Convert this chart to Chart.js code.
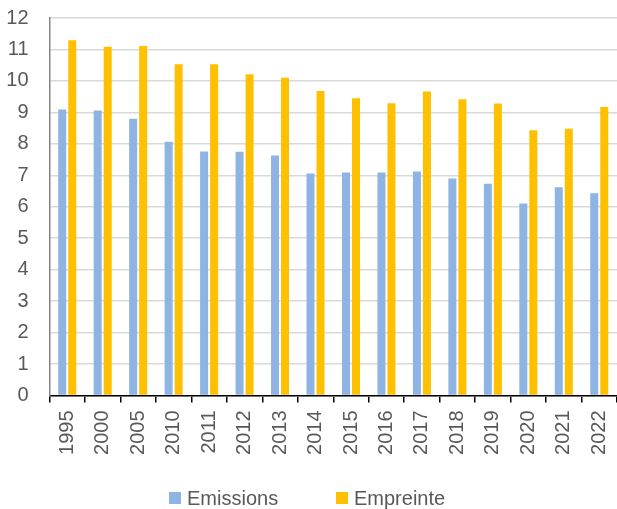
<!DOCTYPE html>
<html>
<head>
<meta charset="utf-8">
<script src="https://cdn.jsdelivr.net/npm/chart.js@4/dist/chart.umd.min.js"></script>
<style>
  html, body { margin: 0; padding: 0; background: #fff; }
  #wrap { position: relative; width: 617px; height: 509px; }
  #legend { font-family: 'Liberation Sans', Arial, sans-serif; font-size: 20px; line-height: 20px; color: #595959; }
  .box { position: absolute; width: 12px; height: 12px; }
  .txt { position: absolute; white-space: nowrap; }
</style>
</head>
<body>
<div id="wrap">
  <canvas id="chart" width="617" height="509"></canvas>
  <div id="legend"></div>
</div>
<script>
  'use strict';

  const years = ['1995', '2000', '2005', '2010', '2011', '2012', '2013', '2014',
    '2015', '2016', '2017', '2018', '2019', '2020', '2021', '2022'];
  const emissions = [9.09, 9.06, 8.80, 8.07, 7.76, 7.75, 7.63, 7.06,
    7.09, 7.09, 7.12, 6.90, 6.73, 6.10, 6.62, 6.43];
  const empreinte = [11.29, 11.09, 11.11, 10.53, 10.53, 10.21, 10.10, 9.68,
    9.45, 9.29, 9.66, 9.42, 9.28, 8.43, 8.48, 9.17];
  const seriesNames = ['Emissions', 'Empreinte'];

  const BLUE = '#8EB4E3';
  const GOLD = '#FFC000';
  const TEXT = '#595959';
  const FONT = "'Liberation Sans', Arial, sans-serif";

  // legend drawn as html so the item spacing can match the original
  const legendItems = [
    { name: seriesNames[0], color: BLUE, boxX: 169, textX: 187 },
    { name: seriesNames[1], color: GOLD, boxX: 336, textX: 354 },
  ];
  const legend = document.getElementById('legend');
  legendItems.forEach((it) => {
    const b = document.createElement('div');
    b.className = 'box';
    b.style.left = it.boxX + 'px';
    b.style.top = '491.5px';
    b.style.background = it.color;
    legend.appendChild(b);
    const t = document.createElement('div');
    t.className = 'txt';
    t.style.left = it.textX + 'px';
    t.style.top = '487.5px';
    t.textContent = it.name;
    legend.appendChild(t);
  });

  // kill the automatic edge padding the scales ask for, so the plot
  // reaches the right edge and the top gridline sits where we want it
  function noPad(s) {
    s.paddingLeft = 0;
    s.paddingRight = 0;
    s.paddingTop = 0;
    s.paddingBottom = 0;
  }

  new Chart(document.getElementById('chart').getContext('2d'), {
    type: 'bar',
    data: {
      labels: years,
      datasets: [
        { label: seriesNames[0], data: emissions, backgroundColor: BLUE },
        { label: seriesNames[1], data: empreinte, backgroundColor: GOLD },
      ],
    },
    options: {
      responsive: false,
      animation: false,
      categoryPercentage: 0.565,
      barPercentage: 0.8,
      layout: { padding: { top: 18, right: 0, bottom: 0, left: 0 } },
      plugins: { legend: { display: false }, tooltip: { enabled: false } },
      scales: {
        x: {
          afterFit: (s) => { s.height = 113.5; noPad(s); },
          grid: {
            display: true,
            drawOnChartArea: false,
            drawTicks: true,
            tickLength: 7,
            color: '#000',
            lineWidth: 1.5,
            offset: true,
          },
          border: { display: true, color: '#000', width: 1.5 },
          ticks: {
            color: TEXT,
            font: { family: FONT, size: 20 },
            minRotation: 90,
            maxRotation: 90,
            padding: 8,
            autoSkip: false,
          },
        },
        y: {
          min: 0,
          max: 12,
          afterFit: (s) => { s.width = 49.5; noPad(s); },
          grid: { color: '#D9D9D9', lineWidth: 1.5, drawTicks: false },
          border: { display: true, color: '#868686', width: 1.5 },
          ticks: {
            stepSize: 1,
            color: TEXT,
            font: { family: FONT, size: 20 },
            padding: 21,
          },
        },
      },
    },
  });
</script>
</body>
</html>
